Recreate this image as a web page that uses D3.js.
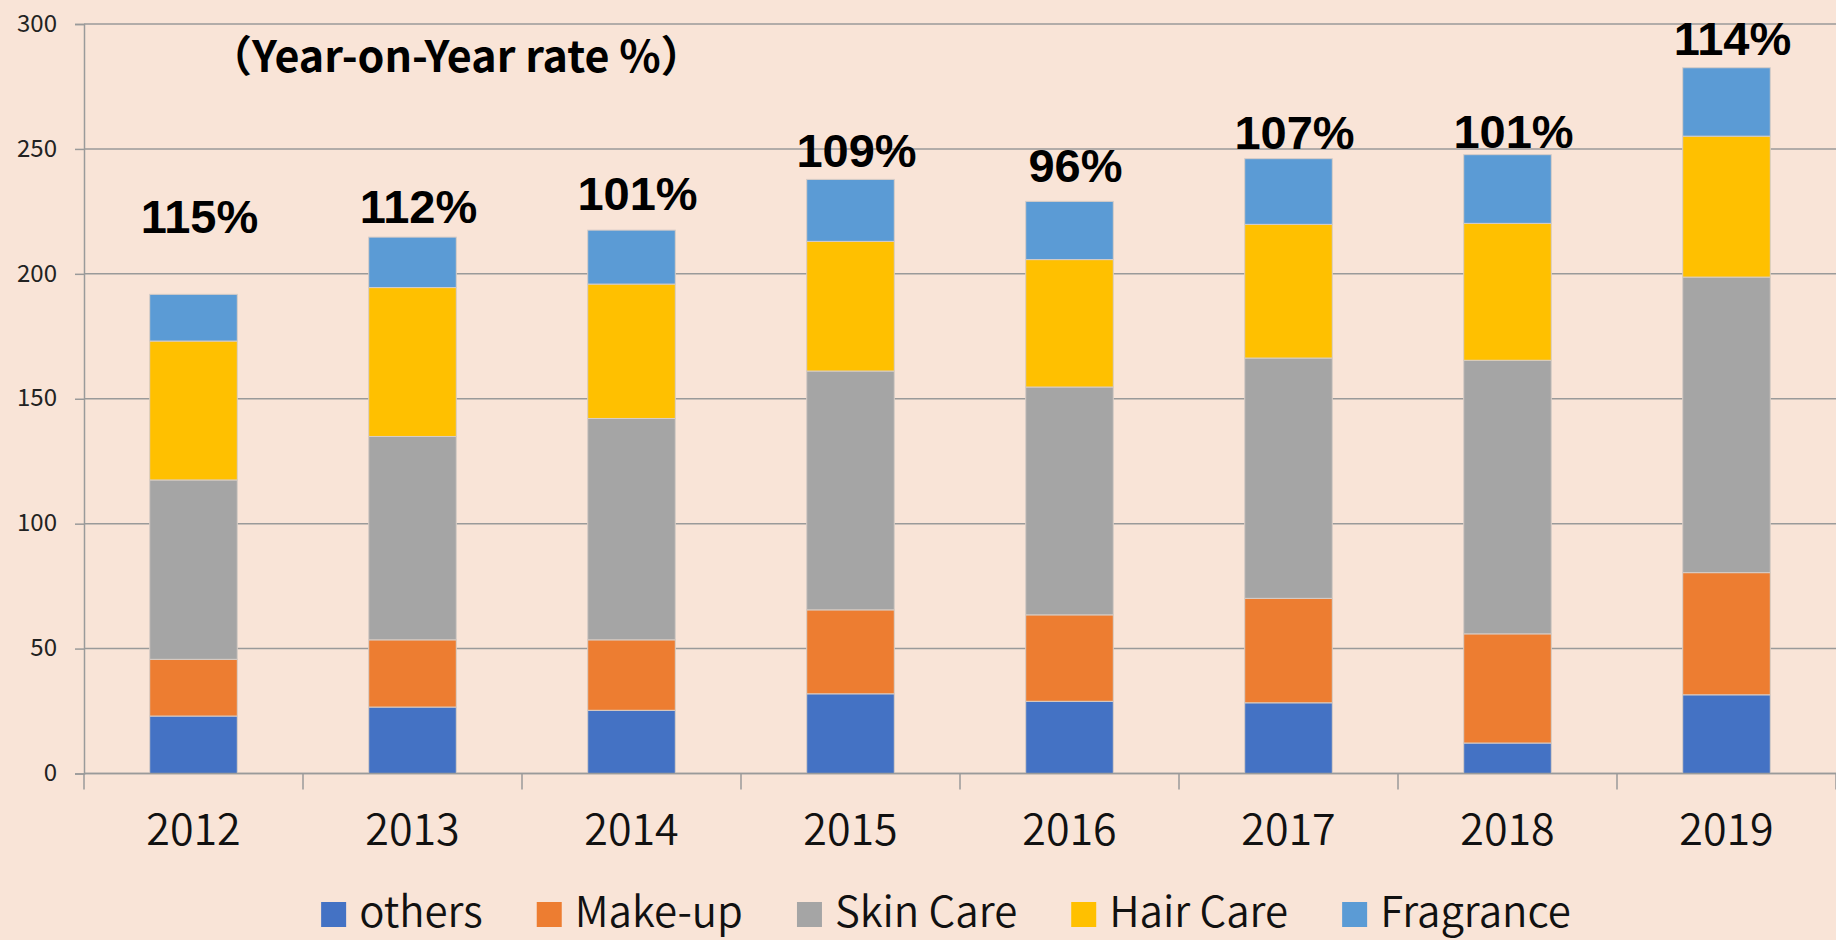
<!DOCTYPE html>
<html lang="en">
<head>
    <meta charset="UTF-8">
    <title>Cosmetics Sales by Category 2012-2019</title>
    <style>
        body {
            margin: 0;
            background-color: #f9e4d7;
        }
        svg {
            display: block;
        }
        .tick text {
            font-family: 'Noto Sans CJK JP', 'Noto Sans', sans-serif;
        }
    </style>
</head>
<body>
    <svg id="chart"></svg>

    <script src="https://d3js.org/d3.v7.min.js"></script>
    <script>
        // Data
        const years = ['2012', '2013', '2014', '2015', '2016', '2017', '2018', '2019'];
        const categories = ['others', 'Make-up', 'Skin Care', 'Hair Care', 'Fragrance'];
        const others    = [23.0, 26.6, 25.3, 31.9, 28.9, 28.3, 12.2, 31.5];
        const makeUp    = [22.7, 26.9, 28.2, 33.6, 34.6, 41.8, 43.7, 48.9];
        const skinCare  = [71.8, 81.4, 88.6, 95.6, 91.2, 96.2, 109.5, 118.3];
        const hairCare  = [55.6, 59.6, 53.8, 51.9, 51.0, 53.5, 54.8, 56.4];
        const fragrance = [18.7, 20.2, 21.6, 24.8, 23.3, 26.3, 27.5, 27.4];
        const yoyRates  = ['115%', '112%', '101%', '109%', '96%', '107%', '101%', '114%'];
        // height (in chart units) where each rate label sits
        const rateLevels = [216.5, 220.5, 225.4, 242.7, 236.8, 250.1, 250.3, 287.7];
        const yTicks = [0, 50, 100, 150, 200, 250, 300];

        const colors = ['#4472c4', '#ed7d31', '#a5a5a5', '#ffc000', '#5b9bd5'];

        const width = 1836;
        const height = 940;
        const margin = { top: 24, right: 0, bottom: 166.5, left: 84 };
        const font = "'Noto Sans CJK JP', 'Noto Sans', sans-serif";

        const rows = years.map((year, i) => ({
            year,
            'others': others[i],
            'Make-up': makeUp[i],
            'Skin Care': skinCare[i],
            'Hair Care': hairCare[i],
            'Fragrance': fragrance[i]
        }));
        const series = d3.stack().keys(categories)(rows);

        const svg = d3.select('#chart')
            .attr('width', width)
            .attr('height', height);

        const x = d3.scaleBand()
            .domain(years)
            .range([margin.left, width - margin.right])
            .paddingInner(0.6)
            .paddingOuter(0.3);

        const y = d3.scaleLinear()
            .domain([0, 300])
            .range([height - margin.bottom, margin.top]);

        const color = d3.scaleOrdinal().domain(categories).range(colors);

        // gridlines
        svg.append('g')
            .selectAll('line')
            .data(yTicks)
            .join('line')
            .attr('x1', margin.left)
            .attr('x2', width - margin.right)
            .attr('y1', d => y(d))
            .attr('y2', d => y(d))
            .attr('stroke', '#9a9a9a')
            .attr('stroke-width', 1.5);

        // y axis
        const yAxis = svg.append('g')
            .attr('transform', `translate(${margin.left},0)`)
            .call(d3.axisLeft(y).tickValues(yTicks).tickSize(9).tickPadding(18));
        yAxis.select('.domain').attr('stroke', '#9a9a9a').attr('stroke-width', 1.5);
        yAxis.selectAll('.tick line').attr('stroke', '#9a9a9a').attr('stroke-width', 1.5);
        yAxis.selectAll('.tick text')
            .attr('font-size', 24)
            .attr('fill', '#222')
            .attr('dy', '0.3em');

        // bars
        svg.append('g')
            .selectAll('g')
            .data(series)
            .join('g')
            .attr('fill', d => color(d.key))
            .selectAll('rect')
            .data(d => d)
            .join('rect')
            .attr('x', d => x(d.data.year))
            .attr('width', x.bandwidth())
            .attr('y', d => y(d[1]))
            .attr('height', d => y(d[0]) - y(d[1]))
            .attr('stroke', '#d8cdc6')
            .attr('stroke-width', 1);

        // x axis with ticks between categories
        const baseY = y(0);
        const step = x.step();
        svg.append('line')
            .attr('x1', margin.left)
            .attr('x2', width - margin.right)
            .attr('y1', baseY)
            .attr('y2', baseY)
            .attr('stroke', '#9a9a9a')
            .attr('stroke-width', 1.5);
        svg.append('g')
            .selectAll('line')
            .data(d3.range(years.length + 1))
            .join('line')
            .attr('x1', i => margin.left + i * step)
            .attr('x2', i => margin.left + i * step)
            .attr('y1', baseY)
            .attr('y2', baseY + 16)
            .attr('stroke', '#9a9a9a')
            .attr('stroke-width', 1.5);

        svg.append('g')
            .selectAll('text')
            .data(years)
            .join('text')
            .attr('x', d => x(d) + x.bandwidth() / 2)
            .attr('y', 845)
            .attr('text-anchor', 'middle')
            .attr('font-family', font)
            .attr('font-size', 43)
            .attr('font-weight', 350)
            .attr('fill', '#111')
            .text(d => d);

        // Year-on-Year labels
        svg.append('g')
            .selectAll('text')
            .data(yoyRates)
            .join('text')
            .attr('x', (d, i) => x(years[i]) + x.bandwidth() / 2 + 6)
            .attr('y', (d, i) => y(rateLevels[i]))
            .attr('text-anchor', 'middle')
            .attr('font-family', "'Liberation Sans', Arial, sans-serif")
            .attr('font-weight', 'bold')
            .attr('font-size', 47)
            .attr('fill', '#000')
            .text(d => d);

        svg.append('text')
            .attr('x', 209)
            .attr('y', 72)
            .attr('font-family', font)
            .attr('font-weight', 'bold')
            .attr('font-size', 43)
            .attr('fill', '#000')
            .text('（Year-on-Year rate %）');

        // legend
        const legend = svg.append('g');
        const items = legend.selectAll('g')
            .data(categories)
            .join('g');
        items.append('rect')
            .attr('width', 25)
            .attr('height', 25)
            .attr('y', -25)
            .attr('fill', d => color(d));
        items.append('text')
            .attr('x', 38)
            .attr('y', 0)
            .attr('font-family', font)
            .attr('font-size', 42)
            .attr('font-weight', 350)
            .attr('fill', '#111')
            .text(d => d);

        let cursor = 0;
        items.each(function () {
            const g = d3.select(this);
            g.attr('transform', `translate(${cursor},0)`);
            cursor += 38 + g.select('text').node().getComputedTextLength() + 54;
        });
        const legendWidth = cursor - 54;
        legend.attr('transform', `translate(${946 - legendWidth / 2},927)`);
    </script>
</body>
</html>
